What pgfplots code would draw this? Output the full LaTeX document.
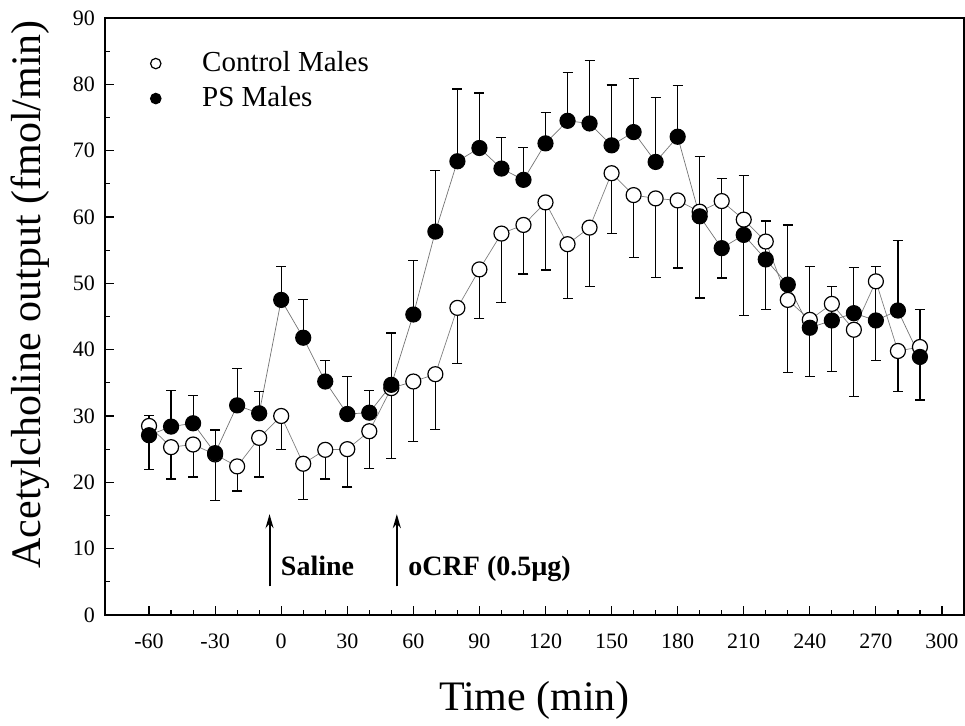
\documentclass[border=0pt]{standalone}
\usepackage{fontspec}
\setmainfont{Liberation Serif}
\usepackage{pgfplots}
\usepackage{pgfplotstable}
\pgfplotsset{compat=1.18}
\usetikzlibrary{arrows.meta}

\pgfplotstableread{
t    c     cerr  p     perr
-60  28.5  6.6   27.1  3.0
-50  25.3  4.8   28.4  5.4
-40  25.7  4.9   28.9  4.2
-30  24.2  7.0   24.4  3.5
-20  22.4  3.7   31.6  5.5
-10  26.7  5.9   30.4  3.3
0    30.0  5.0   47.5  5.0
10   22.8  5.4   41.8  5.8
20   24.9  4.4   35.2  3.2
30   25.0  5.7   30.3  5.6
40   27.7  5.6   30.5  3.3
50   34.2  10.6  34.7  7.8
60   35.2  9.1   45.3  8.1
70   36.3  8.3   57.8  9.2
80   46.3  8.4   68.4  10.9
90   52.1  7.4   70.4  8.3
100  57.5  10.4  67.3  4.7
110  58.8  7.4   65.6  4.9
120  62.2  10.2  71.1  4.6
130  55.9  8.2   74.5  7.3
140  58.4  8.9   74.1  9.5
150  66.6  9.1   70.8  9.1
160  63.3  9.4   72.8  8.1
170  62.8  11.9  68.3  9.7
180  62.5  10.2  72.1  7.7
190  60.8  13.0  60.1  9.0
200  62.4  11.6  55.3  10.5
210  59.6  14.4  57.3  9.0
220  56.3  10.2  53.6  5.8
230  47.5  10.9  49.8  9.0
240  44.5  8.5   43.3  9.2
250  46.9  10.2  44.4  5.1
260  43.0  10.1  45.5  6.9
270  50.3  11.9  44.4  8.1
280  39.8  6.1   45.9  10.6
290  40.4  8.0   38.9  7.1
}\data

\begin{document}
\begin{tikzpicture}
\begin{axis}[
  at={(0,0)}, anchor=south west,
  scale only axis, width=429.5pt, height=298.5pt,
  xmin=-80, xmax=310, ymin=0, ymax=90,
  xtick={-60,-30,...,300}, ytick={0,10,...,90},
  minor x tick num=2, minor y tick num=1,
  tick align=inside, tick pos=left,
  major tick length=4.5pt, minor tick length=2.5pt,
  tick style={black, line width=0.6pt},
  axis line style={black, line width=0.7pt},
  /pgf/number format/assume math mode=true,
  ticklabel style={font=\fontsize{11}{13}\selectfont},
  xticklabel style={yshift=-6pt},
  yticklabel style={xshift=-1.5pt},
  xlabel={Time (min)},
  ylabel={Acetylcholine output (fmol/min)},
  every axis x label/.style={at={(axis description cs:0.5,-0.1424)}, anchor=center, font=\fontsize{21}{24}\selectfont},
  every axis y label/.style={at={(axis description cs:-0.0873,0.537)}, rotate=90, anchor=center, font=\fontsize{21}{24}\selectfont},
  legend image code/.code={\draw[#1, only marks, mark size=2.6pt] plot coordinates {(0pt,0.7pt)};},
  legend style={at={(rel axis cs:0.0526,0.892)}, anchor=west, draw=none, fill=none,
    inner sep=0pt, font=\fontsize{14.5}{16}\selectfont,
    nodes={text height=10pt, text depth=3pt, inner sep=0pt},
    /tikz/row sep=4.5pt, /tikz/column sep=20.6pt},
  legend cell align=left,
]
\addplot[black!50, line width=0.35pt, mark=*, mark size=3.75pt,
  mark options={solid, fill=white, draw=black, line width=0.6pt},
  error bars/.cd, y dir=minus, y explicit,
  error bar style={black, solid, line width=0.6pt},
  error mark options={black, solid, line width=0.6pt, mark size=2.5pt, rotate=90}]
  table[x=t, y=c, y error minus=cerr] {\data};
\addlegendentry{Control Males}
\addplot[black!55, line width=0.35pt, mark=*, mark size=3.75pt,
  mark options={solid, fill=black, draw=black, line width=0.6pt},
  error bars/.cd, y dir=plus, y explicit,
  error bar style={black, solid, line width=0.6pt},
  error mark options={black, solid, line width=0.6pt, mark size=2.5pt, rotate=90}]
  table[x=t, y=p, y error plus=perr] {\data};
\addlegendentry{PS Males}

\draw[-{Stealth[length=7pt,width=4pt]}, line width=1pt] (axis cs:-5.3,4.3) -- (axis cs:-5.3,15.2);
\draw[-{Stealth[length=7pt,width=4pt]}, line width=1pt] (axis cs:52.5,4.3) -- (axis cs:52.5,15.2);
\node[anchor=base west, inner sep=0pt, font=\bfseries\fontsize{14}{16}\selectfont] at (axis cs:-0.3,5.9) {Saline};
\node[anchor=base west, inner sep=0pt, font=\bfseries\fontsize{14}{16}\selectfont] at (axis cs:57.6,5.9) {oCRF (0.5µg)};
\end{axis}
\pgfresetboundingbox
\path (-52.5pt,-55.5pt) rectangle (430pt,307.5pt);
\end{tikzpicture}
\end{document}
